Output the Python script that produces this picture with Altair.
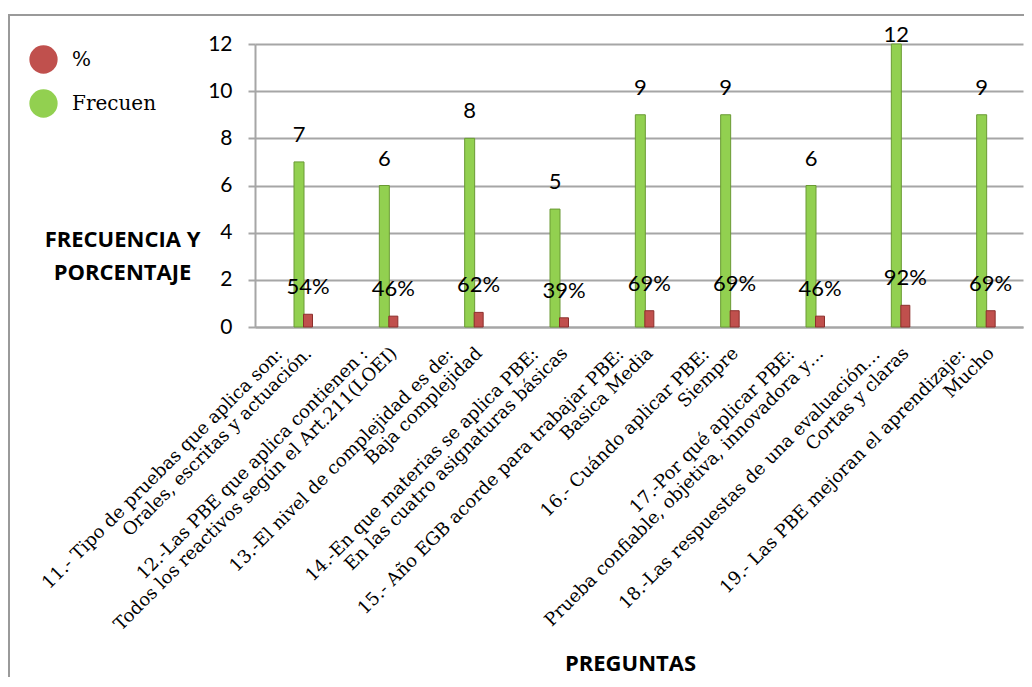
import altair as alt
import pandas as pd

categorias = [
    "11.- Tipo de pruebas que aplica son:|Orales, escritas y actuación.",
    "12.-Las PBE que aplica contienen :|Todos los reactivos según el Art.211(LOEI)",
    "13.-El nivel de complejidad es de:|Baja complejidad",
    "14.-En que materias se aplica PBE:|En las cuatro asignaturas básicas",
    "15.- Año EGB acorde para trabajar PBE:|Basica Media",
    "16.- Cuándo aplicar PBE:|Siempre",
    "17.-Por qué aplicar PBE:|Prueba confiable, objetiva, innovadora y…",
    "18.-Las respuestas de una evaluación…|Cortas y claras",
    "19.- Las PBE mejoran el aprendizaje:|Mucho",
]
frecuen = [7, 6, 8, 5, 9, 9, 6, 12, 9]
porcentaje = [0.54, 0.46, 0.62, 0.39, 0.69, 0.69, 0.46, 0.92, 0.69]
series = ["%", "Frecuen"]
y_ticks = [0, 2, 4, 6, 8, 10, 12]

rows = []
for c, f, p in zip(categorias, frecuen, porcentaje):
    rows.append({"cat": c, "serie": "Frecuen", "valor": f, "etiqueta": str(f)})
    rows.append({"cat": c, "serie": "%", "valor": p, "etiqueta": f"{round(p * 100)}%"})
df = pd.DataFrame(rows)

GRAY = "#a6a6a6"
LABEL_FONT = "DejaVu Serif"
LABEL_SIZE = 18

axis_line1 = alt.Axis(
    orient="bottom",
    title="PREGUNTAS",
    titleFont="Open Sans",
    titleFontWeight="bold",
    titleFontSize=22,
    titleX=375,
    titleY=336,
    titleAlign="center",
    titleBaseline="middle",
    labelAngle=-45,
    labelAlign="right",
    labelBaseline="top",
    labelFont=LABEL_FONT,
    labelFontSize=LABEL_SIZE,
    labelColor="black",
    labelLimit=0,
    labelPadding=18,
    labelOffset=-24,
    labelExpr="split(datum.label, '|')[0]",
    ticks=False,
    domainColor=GRAY,
    domainWidth=2,
    grid=False,
)
axis_line2 = alt.Axis(
    orient="bottom",
    title=None,
    labelAngle=-45,
    labelAlign="right",
    labelBaseline="top",
    labelFont=LABEL_FONT,
    labelFontSize=LABEL_SIZE,
    labelColor="black",
    labelLimit=0,
    labelPadding=17,
    labelOffset=5,
    labelExpr="split(datum.label, '|')[1]",
    ticks=False,
    domain=False,
    grid=False,
)


def make_x(axis):
    return alt.X(
        "cat:N",
        sort=categorias,
        scale=alt.Scale(paddingInner=0, paddingOuter=0),
        axis=axis,
    )


def make_y(field):
    return alt.Y(
        f"{field}:Q",
        scale=alt.Scale(domain=[0, 12], nice=False),
        axis=alt.Axis(
            values=y_ticks,
            title=["FRECUENCIA Y", "PORCENTAJE"],
            titleAngle=0,
            titleAlign="center",
            titleBaseline="top",
            titleX=-133,
            titleY=185,
            titleLineHeight=33,
            titleFont="Open Sans",
            titleFontWeight="bold",
            titleFontSize=22,
            labelFont="Lato",
            labelFontSize=21,
            labelColor="black",
            labelPadding=16,
            tickSize=7,
            tickColor=GRAY,
            tickWidth=2,
            domainColor=GRAY,
            domainWidth=2,
            gridColor=GRAY,
            gridWidth=2,
        ),
    )


color_enc = alt.Color(
    "serie:N",
    scale=alt.Scale(domain=series, range=["#c0504d", "#92d050"]),
    legend=alt.Legend(
        title=None,
        orient="none",
        legendX=-226,
        legendY=1,
        symbolType="circle",
        symbolSize=800,
        symbolStrokeWidth=0,
        labelFont=LABEL_FONT,
        labelFontSize=20,
        labelColor="black",
        rowPadding=15,
        labelOffset=14,
        padding=0,
    ),
)
stroke_enc = alt.Stroke(
    "serie:N",
    scale=alt.Scale(domain=series, range=["#8c2f2c", "#6a9a34"]),
    legend=None,
)

# chart-area frame (only its top and left edges fall inside the page)
frame = alt.Chart(pd.DataFrame({"marco": [0]})).mark_rect(
    filled=False, stroke="#9a9a9a", strokeWidth=2
).encode(
    x=alt.value(-246), x2=alt.value(800), y=alt.value(-29), y2=alt.value(700)
)

base = alt.Chart(df).transform_calculate(ypos="min(datum.valor, 11.25)")

green = base.transform_filter(alt.datum.serie == "Frecuen")
red = base.transform_filter(alt.datum.serie == "%")

green_bars = green.mark_bar(size=10, strokeWidth=1).encode(
    x=make_x(axis_line1), xOffset=alt.value(44), y=make_y("valor"),
    color=color_enc, stroke=stroke_enc,
)
green_text = green.mark_text(dy=-27, fontSize=22, font="Lato", color="black").encode(
    x=make_x(axis_line2), xOffset=alt.value(44), y=make_y("ypos"), text="etiqueta:N"
)
red_bars = red.mark_bar(size=9, strokeWidth=1).encode(
    x=make_x(None), xOffset=alt.value(53), y=make_y("valor"),
    color=color_enc, stroke=stroke_enc,
)
red_text = red.mark_text(dy=-27, fontSize=22, font="Lato", color="black").encode(
    x=make_x(None), xOffset=alt.value(53), y=make_y("ypos"), text="etiqueta:N"
)

chart = (
    alt.layer(green_bars, green_text, red_bars, red_text, frame)
    .resolve_axis(x="independent")
    .properties(
        width=768,
        height=283,
        autosize=alt.AutoSizeParams(type="none"),
        padding={"left": 247, "top": 36, "right": 1, "bottom": 350},
        background="white",
    )
    .configure_view(stroke=None)
)

chart.save("out.html", embed_options={"renderer": "svg", "actions": False})
